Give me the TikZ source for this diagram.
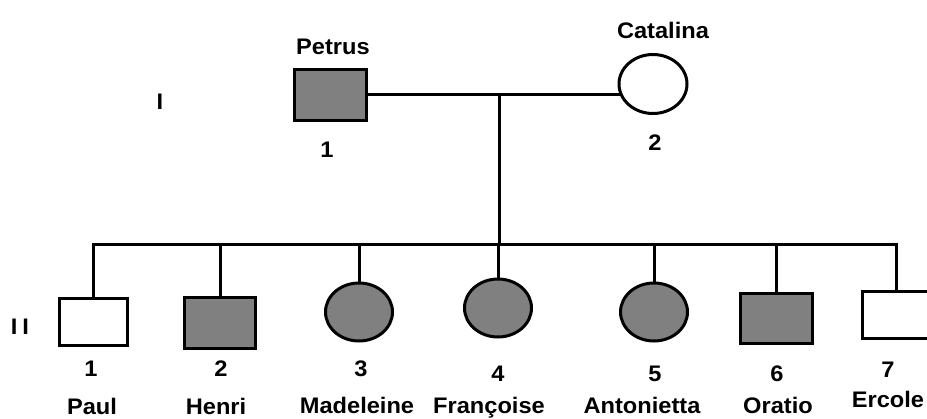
\documentclass[tikz,border=0pt]{standalone}
\usepackage{fontspec}
\setmainfont{Liberation Sans}[FakeStretch = 1.05]
\usetikzlibrary{shapes,calc}
\pgfdeclarelayer{bg}
\pgfsetlayers{bg,main}
\definecolor{affected}{RGB}{128,128,128}

\begin{document}
\begin{tikzpicture}[x = 1pt, y = -1pt,
    male/.style = {draw, rectangle, line width = 3pt, minimum width = 70pt, minimum height = 48pt, inner sep = 0pt},
    female/.style = {draw, ellipse, line width = 3pt, minimum width = 67pt, minimum height = 58pt, inner sep = 0pt},
    ill/.style = {fill = affected},
    well/.style = {fill = white},
    lbl/.style = {font = \fontsize{22.5}{24}\selectfont\bfseries, inner sep = 0pt, text height = 16pt, text depth = 4pt},
    link/.style = {line width = 3pt}]
\useasboundingbox (0,0) rectangle (927,418);

% generation I
\node[male, ill, minimum width = 72pt, minimum height = 51pt] (P) at (330,95) {};
\node[female, well, minimum width = 68pt, minimum height = 59pt] (C) at (653,84) {};

% generation II
\node[male, well, minimum width = 68pt, minimum height = 47pt] (paul) at (93,322) {};
\node[male, ill, minimum width = 71pt, minimum height = 51pt] (henri) at (220,323) {};
\node[female, ill] (madeleine) at (359,312) {};
\node[female, ill] (francoise) at (498,308) {};
\node[female, ill] (antonietta) at (654,312) {};
\node[male, ill, minimum width = 72pt, minimum height = 50pt] (oratio) at (776,318) {};
\node[male, well, minimum width = 68pt, minimum height = 47pt] (ercole) at (896,315) {};

\coordinate (mid) at (499,94);
\coordinate (sib) at (499,244);

\begin{pgfonlayer}{bg}
\draw[link] (P.center |- mid) -- (mid -| C.center);
\draw[link] (mid) -- (sib);
\draw[link] (paul.north) -- (paul.north |- sib) -- (ercole.north |- sib) -- (ercole.north);
\foreach \kid in {henri, madeleine, francoise, antonietta, oratio}
  \draw[link] (\kid.north) -- (\kid.north |- sib);
\end{pgfonlayer}

% labels
\node[lbl] (genI) at (160,103) {I};
\node[lbl] (genII) at (20,328) {I\hspace{5pt}I};
\node[lbl] (petrus) at (333,48) {Petrus};
\node[lbl] (catalina) at (663,32) {Catalina};
\node[lbl] (numP) at (327,151) {1};
\node[lbl] (numC) at (655,144) {2};

\node[lbl] (n1) at (91,370) {1};
\node[lbl] (n2) at (221,370) {2};
\node[lbl] (n3) at (361,370) {3};
\node[lbl] (n4) at (498,375) {4};
\node[lbl] (n5) at (655,375) {5};
\node[lbl] (n6) at (777,375) {6};
\node[lbl] (n7) at (888,371) {7};

\node[lbl] (paulname) at (92,408) {Paul};
\node[lbl] (henriname) at (216,408) {Henri};
\node[lbl] (madeleinename) at (357,407) {Madeleine};
\node[lbl] (francoisename) at (489,407) {Françoise};
\node[lbl] (antoniettaname) at (642,407) {Antonietta};
\node[lbl] (orationame) at (778,407) {Oratio};
\node[lbl] (ercolename) at (888,401) {Ercole};

\end{tikzpicture}
\end{document}
